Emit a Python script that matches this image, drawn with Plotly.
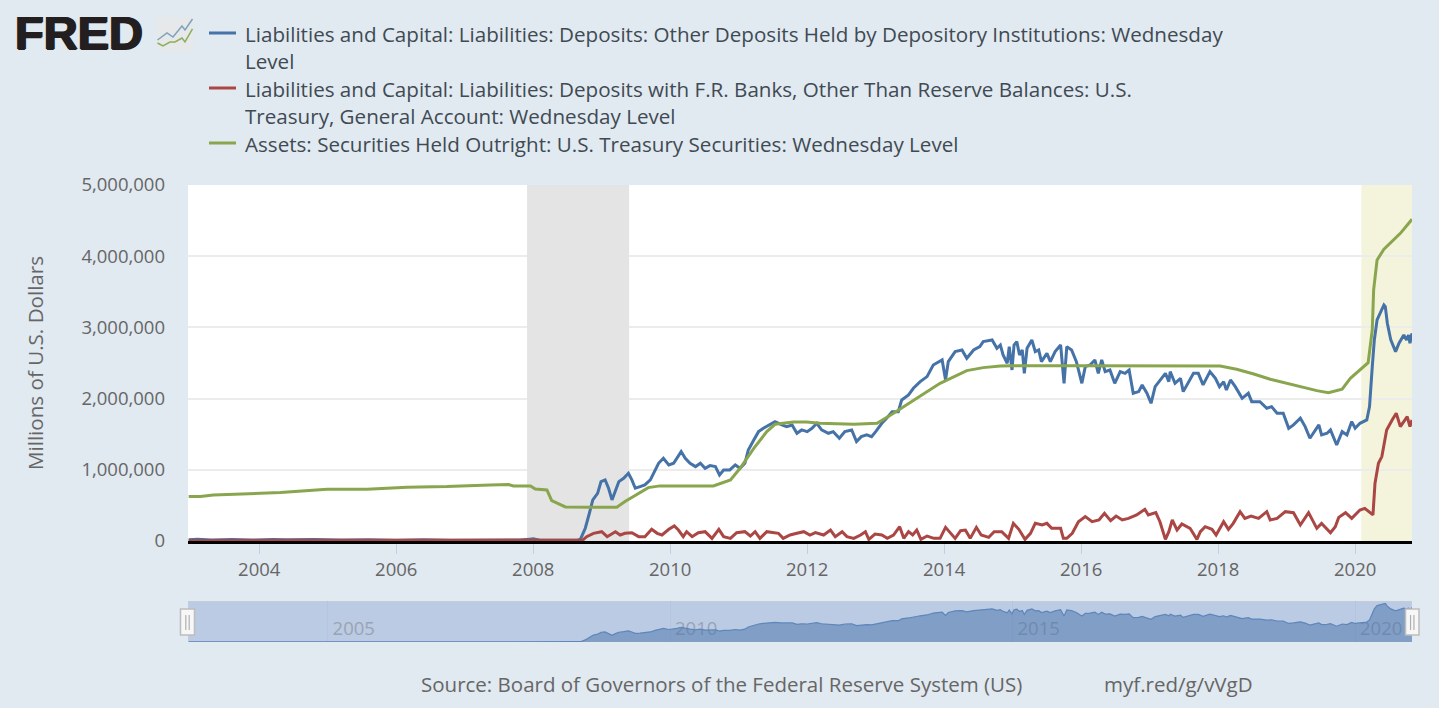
import plotly.graph_objects as go

W, H = 1439, 708

deposits_x = [2002.97,2003.1,2003.3,2003.6,2003.9,2004.2,2004.4,2004.8,2005.2,2005.6,2006.0,2006.4,2006.8,2007.2,2007.5,2007.8,2007.95,2008.0,2008.1,2008.3,2008.5,2008.65,
2008.69,2008.76,2008.82,2008.87,2008.94,2008.99,2009.05,2009.10,2009.15,2009.20,2009.25,2009.32,2009.39,2009.44,2009.49,2009.56,2009.63,2009.71,2009.78,2009.83,2009.90,2009.98,2010.05,2010.10,2010.16,2010.22,2010.29,2010.37,2010.44,2010.51,2010.58,2010.66,2010.72,2010.78,2010.87,2010.95,2011.02,2011.09,2011.14,2011.22,2011.29,2011.36,2011.44,2011.53,2011.63,2011.70,2011.78,2011.85,2011.92,2012.0,2012.07,2012.14,2012.21,2012.31,2012.38,2012.47,2012.55,2012.65,2012.72,2012.79,2012.87,2012.94,2013.0,2013.09,2013.16,2013.24,2013.33,2013.38,2013.48,2013.55,2013.65,2013.75,2013.84,2013.97,2014.02,2014.06,2014.16,2014.26,2014.33,2014.43,2014.52,2014.57,2014.70,
2014.77,2014.82,2014.86,2014.92,2014.95,2014.99,2015.02,2015.06,2015.10,2015.14,2015.17,2015.21,2015.28,2015.33,2015.38,2015.42,2015.50,2015.55,2015.62,2015.70,2015.75,2015.79,2015.86,2015.93,2016.01,2016.06,2016.13,2016.20,2016.25,2016.30,2016.35,2016.42,2016.49,2016.57,2016.64,2016.70,
2016.76,2016.84,2016.89,2016.96,2017.02,2017.08,2017.18,2017.23,2017.28,2017.30,2017.37,2017.45,2017.49,2017.57,2017.64,2017.71,2017.78,2017.88,2017.96,2018.02,2018.08,2018.12,2018.18,2018.25,2018.35,2018.44,2018.49,2018.61,2018.71,2018.78,2018.86,2018.95,2019.03,2019.10,2019.20,2019.27,2019.34,2019.47,2019.51,2019.59,2019.64,2019.73,2019.81,2019.88,2019.95,2020.0,2020.07,2020.17,
2020.21,2020.25,2020.28,2020.32,2020.37,2020.42,2020.44,2020.47,2020.52,2020.59,2020.64,2020.71,2020.75,2020.78,2020.80,2020.83]
deposits_bn = [18,24,15,20,14,22,16,21,13,19,12,17,11,15,10,14,26,30,12,10,9,12,
25,179,390,577,670,834,858,741,577,717,834,881,951,858,741,764,788,858,998,1092,1162,1068,1092,1162,1256,1162,1092,1045,1092,1021,1059,1045,928,998,998,1068,1021,1092,1279,1419,1536,1583,1630,1677,1630,1607,1630,1513,1560,1536,1583,1653,1560,1513,1536,1443,1536,1560,1396,1466,1490,1466,1536,1653,1724,1817,1817,1981,2051,2145,2238,2309,2472,2543,2262,2519,2660,2683,2566,2683,2730,2800,2823,
2706,2753,2613,2496,2730,2402,2753,2800,2613,2683,2355,2706,2823,2660,2683,2519,2636,2519,2660,2753,2215,2730,2683,2519,2215,2449,2472,2543,2355,2543,2379,2402,2215,2379,2355,2402,
2075,2098,2192,2075,1934,2168,2285,2355,2238,2379,2215,2285,2098,2238,2355,2355,2192,2379,2285,2168,2238,2121,2262,2168,2004,2075,1957,1957,1864,1887,1794,1794,1583,1630,1724,1607,1443,1630,1490,1513,1560,1349,1536,1490,1677,1583,1653,1700,
1888,2449,2824,3104,3198,3315,3292,3058,2824,2660,2777,2894,2824,2894,2777,2917]

treasury_x = [2002.97,2004.0,2005.0,2006.0,2007.0,2007.5,2008.0,2008.5,2008.72,
2008.78,2008.88,2009.0,2009.08,2009.2,2009.27,2009.34,2009.44,2009.54,2009.63,2009.73,2009.81,2009.88,2009.98,2010.06,2010.12,2010.19,2010.24,2010.32,2010.41,2010.51,2010.61,2010.71,2010.78,2010.88,2010.97,2011.09,2011.17,2011.24,2011.31,2011.41,2011.51,2011.58,2011.65,2011.75,2011.85,2011.95,2012.04,2012.12,2012.24,2012.34,2012.41,2012.51,2012.58,
2012.68,2012.78,2012.85,2012.90,2012.99,2013.09,2013.17,2013.26,2013.35,2013.41,2013.48,2013.54,2013.60,2013.66,2013.75,2013.85,2013.94,2014.02,2014.09,2014.16,2014.24,2014.31,2014.38,2014.47,2014.54,2014.65,2014.73,2014.84,2014.94,2015.01,2015.09,2015.18,2015.26,2015.33,2015.43,2015.50,2015.57,2015.70,2015.74,2015.79,2015.87,2015.96,2016.06,2016.16,2016.26,2016.34,2016.43,2016.51,2016.60,2016.69,
2016.81,2016.93,2016.98,2017.09,2017.15,2017.23,2017.28,2017.33,2017.40,2017.47,2017.59,2017.69,2017.74,2017.81,2017.91,2017.97,2018.08,2018.15,2018.22,2018.32,2018.39,2018.48,2018.59,2018.71,2018.76,2018.86,2018.98,2019.10,2019.20,2019.32,2019.44,2019.51,2019.64,2019.71,2019.76,2019.86,2019.95,2020.07,2020.14,2020.24,
2020.26,2020.29,2020.34,2020.39,2020.46,2020.54,2020.60,2020.66,2020.76,2020.80,2020.83]
treasury_bn = [5,6,5,5,6,5,6,5,10,
61,108,131,61,131,84,108,117,61,61,164,108,84,164,211,154,61,131,61,117,131,37,164,61,37,117,131,70,131,37,131,117,108,37,84,108,131,84,117,84,154,61,131,61,
37,84,131,23,98,84,37,84,201,37,131,84,154,23,70,37,37,192,117,37,145,154,37,192,84,51,131,131,37,248,164,23,108,248,225,248,178,178,37,37,108,271,342,271,295,388,285,351,295,318,
365,445,365,398,271,23,131,295,154,239,178,23,131,201,164,84,271,164,248,412,318,351,318,412,295,318,412,398,225,398,178,248,117,201,332,398,318,435,459,379,
367,811,1092,1186,1560,1700,1794,1607,1747,1607,1700]

securities_x = [2002.97,2003.14,2003.33,2003.82,2004.31,2004.99,2005.57,2006.16,2006.74,2007.37,2007.64,2007.71,2007.96,2008.03,2008.20,2008.27,2008.39,2008.47,2008.83,2009.22,2009.34,2009.51,2009.68,2009.85,2010.63,2010.88,2011.02,2011.22,2011.41,2011.53,2011.80,2011.99,2012.19,2012.68,2013.02,2013.26,2013.60,2013.94,2014.33,2014.57,2014.82,2015.0,2016.0,2017.0,2017.85,2018.03,2018.27,2018.52,2018.76,2019.0,2019.25,2019.44,2019.61,2019.81,2019.93,2020.07,2020.19,2020.25,2020.27,2020.32,2020.42,2020.66,2020.83]
securities_bn = [624,624,647,666,680,727,727,755,764,788,792,774,774,731,717,568,521,479,474,474,554,657,750,774,774,858,1021,1302,1536,1639,1672,1672,1653,1639,1653,1794,2004,2215,2393,2435,2458,2461,2461,2463,2465,2458,2412,2346,2271,2215,2154,2112,2084,2131,2285,2402,2505,2964,3526,3947,4097,4321,4518]

names = [
    "Liabilities and Capital: Liabilities: Deposits: Other Deposits Held by Depository Institutions: Wednesday<br>Level",
    "Liabilities and Capital: Liabilities: Deposits with F.R. Banks, Other Than Reserve Balances: U.S.<br>Treasury, General Account: Wednesday Level",
    "Assets: Securities Held Outright: U.S. Treasury Securities: Wednesday Level",
]
colors = ["#4572a7", "#aa4643", "#89a54e"]
year_ticks = [2004, 2006, 2008, 2010, 2012, 2014, 2016, 2018, 2020]
value_ticks = [0, 1000000, 2000000, 3000000, 4000000, 5000000]
slider_ticks = [2005, 2010, 2015, 2020]
x_range = [2002.96, 2020.83]
recession = [2007.91, 2009.40]
covid = [2020.09, 2020.83]

FONT = "Open Sans"
TXT = "#666666"


def fx(p):
    return p / W


def fy(p):
    return 1 - p / H


def path(points, close=False):
    s = "M" + " L".join(f"{fx(a):.5f},{fy(b):.5f}" for a, b in points)
    return s + (" Z" if close else "")


def label(t):
    return "<br>".join(f'<span style="font-size:20.6px">{p}</span>' for p in t.split("<br>"))


fig = go.Figure()
series = [(deposits_x, deposits_bn), (treasury_x, treasury_bn), (securities_x, securities_bn)]
for (xs, ys), n, c in zip(series, names, colors):
    fig.add_trace(go.Scatter(x=xs, y=[v * 1000 for v in ys], name=n.replace("<br>", " "), mode="lines",
                             line=dict(color=c, width=3), xaxis="x", yaxis="y", showlegend=False))
fig.add_trace(go.Scatter(x=deposits_x, y=[v * 1000 for v in deposits_bn], mode="lines", showlegend=False,
                         fill="tozeroy", fillcolor="rgba(69,114,167,0.5)",
                         line=dict(color="#5d86bb", width=1.2), xaxis="x2", yaxis="y2"))

shapes = [
    dict(type="rect", xref="x", yref="y", x0=covid[0], x1=covid[1], y0=0, y1=5000000,
         fillcolor="#f4f4dc", line_width=0, layer="below"),
    dict(type="rect", xref="x", yref="y", x0=recession[0], x1=recession[1], y0=0, y1=5000000,
         fillcolor="#e4e4e4", line_width=0, layer="between"),
    dict(type="rect", xref="x2", yref="y2", x0=x_range[0], x1=x_range[1], y0=0, y1=3500000,
         fillcolor="#bccbe4", line=dict(color="#c9ccd2", width=1.5), layer="below"),
]
for a, b in ((180.5, 194.5), (1405.5, 1419)):
    shapes.append(dict(type="rect", xref="paper", yref="paper", x0=fx(a), x1=fx(b), y0=fy(635), y1=fy(609),
                       fillcolor="#f7f7f7", line=dict(color="#bdbdbd", width=1.5)))
    m = (a + b) / 2
    for d in (-1.7, 1.7):
        shapes.append(dict(type="line", xref="paper", yref="paper", x0=fx(m + d), x1=fx(m + d), y0=fy(630), y1=fy(615),
                           line=dict(color="#b0b0b0", width=1.2)))
# FRED logo icon
shapes.append(dict(type="rect", xref="paper", yref="paper", x0=fx(157), x1=fx(193), y0=fy(51), y1=fy(17),
                   fillcolor="#e6e8e9", line_width=0))
shapes.append(dict(type="path", xref="paper", yref="paper",
                   path=path([(157.5, 40), (167, 33), (173, 37), (182, 26), (185, 30), (192.5, 19)]),
                   line=dict(color="#7fa3bd", width=1.5)))
shapes.append(dict(type="path", xref="paper", yref="paper",
                   path=path([(157.5, 43), (163, 46), (170, 42), (175, 42), (182, 38), (185, 42), (192.5, 29)]),
                   line=dict(color="#8bb05c", width=1.5)))

annotations = [
    dict(text="<b>FRED</b>", xref="paper", yref="paper", x=fx(13), y=fy(33), xanchor="left", yanchor="middle",
         showarrow=False, font=dict(family="Liberation Sans", size=47, color="#231f20",
                                    shadow="1px 0 #231f20, -1px 0 #231f20, 0 1px #231f20")),
    dict(text="Source: Board of Governors of the Federal Reserve System (US)", xref="paper", yref="paper",
         x=fx(419), y=fy(684), xanchor="left", yanchor="middle", showarrow=False,
         font=dict(family=FONT, size=20.5, color=TXT)),
    dict(text="myf.red/g/vVgD", xref="paper", yref="paper", x=fx(1102), y=fy(684), xanchor="left",
         yanchor="middle", showarrow=False, font=dict(family=FONT, size=20.5, color=TXT)),
]
# Legend: one text block and one key line per series, the key level with the first text line
for n, c, row in zip(names, colors, (33, 88, 143)):
    shapes.append(dict(type="line", xref="paper", yref="paper", x0=fx(209), x1=fx(236), y0=fy(row), y1=fy(row),
                       line=dict(color=c, width=3)))
    annotations.append(dict(text=label(n), xref="paper", yref="paper", x=fx(243), y=fy(row - 15), xanchor="left",
                            yanchor="top", align="left", showarrow=False,
                            font=dict(family=FONT, size=21, color="#404a52")))

fig.update_layout(
    width=W, height=H, margin=dict(l=0, r=0, t=0, b=0, autoexpand=False), autosize=False,
    paper_bgcolor="#e1e9f1", plot_bgcolor="#ffffff",
    font=dict(family=FONT, size=18, color=TXT),
    xaxis=dict(domain=[fx(188), fx(1412)], range=x_range, tickmode="array", tickvals=year_ticks,
               showgrid=False, showline=True, linecolor="#000000", linewidth=3, ticks="outside", ticklen=10,
               tickcolor="#c0d0e0", tickfont=dict(size=18.5, color=TXT), anchor="y", zeroline=False),
    yaxis=dict(domain=[fy(541), fy(185)], range=[0, 5000000], tickmode="array", tickvals=value_ticks,
               tickformat=",", gridcolor="#ececec", gridwidth=2, zeroline=False, showline=False,
               tickfont=dict(size=18.5, color=TXT), ticklabelstandoff=22,
               title=dict(text="Millions of U.S. Dollars", font=dict(size=20.6, color=TXT), standoff=32)),
    xaxis2=dict(domain=[fx(188), fx(1412)], range=x_range, anchor="y2", tickmode="array", tickvals=slider_ticks,
                ticks="", showgrid=True, gridcolor="#b6c5df", gridwidth=1, zeroline=False, layer="below traces",
                ticklabelposition="inside", ticklabelshift=26, ticklabelstandoff=0,
                tickfont=dict(size=18.5, color="#9aa3b3"), showline=False),
    yaxis2=dict(domain=[fy(642), fy(601)], range=[0, 3500000], visible=False, showgrid=False, zeroline=False),
    shapes=shapes, annotations=annotations, showlegend=False,
)

fig.write_html("out.html", post_script="document.body.style.margin='0';", config={"displayModeBar": False})
